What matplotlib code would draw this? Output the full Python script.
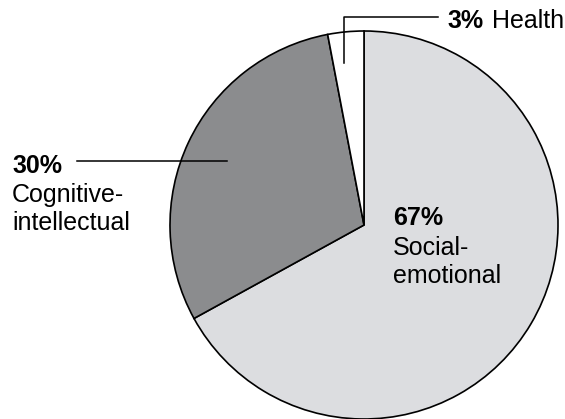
import numpy as np
import matplotlib.pyplot as plt

plt.rcParams['font.family'] = ['Liberation Sans', 'DejaVu Sans']

labels = [['Social-', 'emotional'], ['Cognitive-', 'intellectual'], ['Health']]
shares = [67, 30, 3]
colors = ['#dcdde0', '#8b8c8e', '#ffffff']

W, H = 565, 419
fig = plt.figure(figsize=(W / 100, H / 100), dpi=100)
ax = fig.add_axes([0, 0, 1, 1])

cx, cy, r = 364, H - 225, 194
wedges, _ = ax.pie(shares, colors=colors, startangle=90, counterclock=False,
                   center=(cx, cy), radius=r, frame=True,
                   wedgeprops=dict(edgecolor='black', linewidth=1.2))
ax.set_xlim(0, W)
ax.set_ylim(0, H)
ax.axis('off')


def wedge_point(w, frac, t=0.5):
    lo, hi = sorted((w.theta1, w.theta2))
    a = np.deg2rad(lo + t * (hi - lo))
    return cx + frac * r * np.cos(a), cy + frac * r * np.sin(a)


fs = 18
kw = dict(fontsize=fs, va='baseline')

# Social-emotional label inside the slice
ax.text(393, H - 225, f'{shares[0]}%', fontweight='bold', **kw)
ax.text(393, H - 255, labels[0][0], **kw)
ax.text(393, H - 283, labels[0][1], **kw)

# Cognitive-intellectual with a leader line
px, py = wedge_point(wedges[1], 0.78)
ax.plot([77, px], [py, py], color='black', lw=1.1)
ax.text(12, H - 173, f'{shares[1]}%', fontweight='bold', **kw)
ax.text(12, H - 202, labels[1][0], **kw)
ax.text(12, H - 230, labels[1][1], **kw)

# Health with an elbow leader line
hx, hy = wedge_point(wedges[2], 0.84, 0.65)
ax.plot([hx, hx, 438], [hy, H - 17, H - 17], color='black', lw=1.1)
ax.text(447, H - 28, f'{shares[2]}%', fontweight='bold', **kw)
ax.text(492, H - 28, labels[2][0], **kw)

fig.savefig('out.png', dpi=100)
